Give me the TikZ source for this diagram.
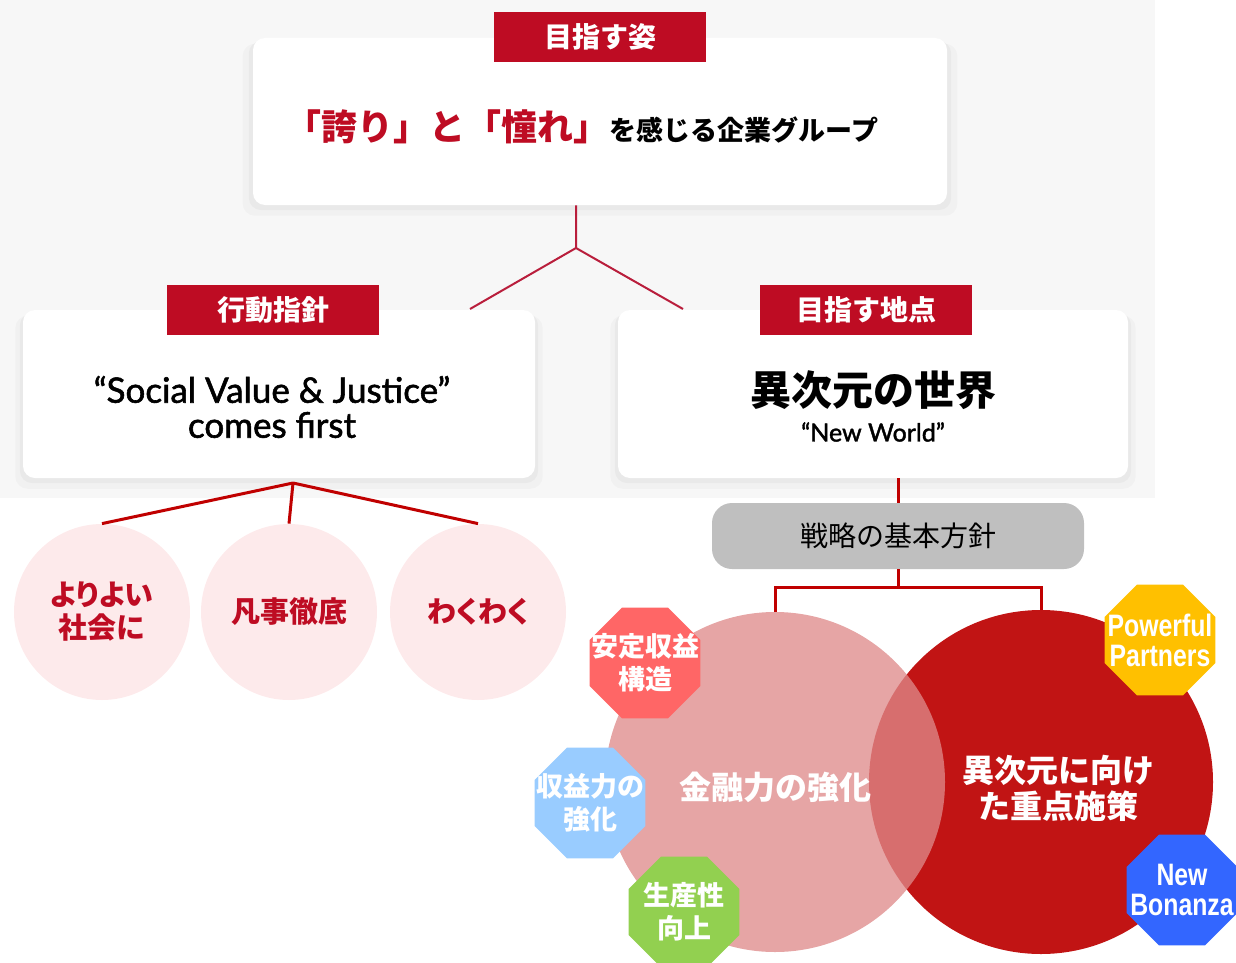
\documentclass[tikz,border=0pt]{standalone}
\usepackage{fontspec}
\setmainfont{Lato}[RawFeature={embolden=1.6}]
\newfontfamily\jp{Noto Sans CJK JP}
\newfontfamily\jpp[RawFeature=+palt]{Noto Sans CJK JP}
\newfontfamily\arl[FakeStretch=0.8]{Liberation Sans}
\usetikzlibrary{shapes.geometric,shadows}
\definecolor{tabred}{RGB}{190,12,35}
\definecolor{linered}{RGB}{192,0,0}
\definecolor{forkred}{RGB}{185,30,60}
\definecolor{dotpink}{RGB}{253,234,235}
\definecolor{finpink}{RGB}{222,138,138}
\definecolor{focusred}{RGB}{193,20,20}
\definecolor{stablered}{RGB}{255,102,102}
\definecolor{profitblue}{RGB}{153,204,255}
\definecolor{prodgreen}{RGB}{146,208,80}
\definecolor{partyellow}{RGB}{255,192,0}
\definecolor{bonblue}{RGB}{51,102,255}

\begin{document}
\begin{tikzpicture}[x=0.5pt,y=-0.5pt,
    card/.style={fill=white,rounded corners=6pt,inner sep=0pt,
      general shadow={fill=black,opacity=0.025,shadow xshift=0pt,shadow yshift=-4pt,shadow scale=1.03},
      general shadow={fill=black,opacity=0.03,shadow xshift=0pt,shadow yshift=-2pt,shadow scale=1.012}},
    tab/.style={fill=tabred,text=white,inner sep=0pt,minimum width=106pt,minimum height=25pt,
      font=\jp\bfseries\fontsize{14}{16}\selectfont},
    dot/.style={circle,fill=dotpink,minimum size=88pt,inner sep=0pt,align=center,
      text=tabred,font=\jpp\bfseries\fontsize{14.5}{16.5}\selectfont},
    oct/.style={regular polygon,regular polygon sides=8,minimum size=60pt,inner sep=0pt},
    octtxt/.style={text=white,align=center,font=\jp\bfseries\fontsize{13.5}{16.5}\selectfont},
    octlat/.style={text=white,align=center,font=\arl\bfseries\fontsize{15.5}{15}\selectfont},
    fork/.style={forkred,line width=1pt},
    fan/.style={linered,line width=1.5pt}]
    \clip (0,0) rectangle (1236,963);
    \fill[black!3] (0,0) rectangle (1155,498);

    % top card
    \node[card,minimum width=347pt,minimum height=83.5pt] (goal) at (600,121.5) {};
    \node[tab] (goaltab) at (600,37) {目指す姿};
    \node (goaltxt) at (582,127) {{\jp\bfseries\fontsize{18}{20}\selectfont\color{tabred}「誇り」と「憧れ」}{\jp\bfseries\fontsize{13.5}{16}\selectfont を感じる企業グループ}};

    % fork
    \coordinate (split) at (576,248);
    \coordinate (splitl) at (470,309);
    \coordinate (splitr) at (683,309);
    \draw[fork] (goal.south -| split) -- (split) -- (splitl);
    \draw[fork] (split) -- (splitr);

    % left and right cards
    \node[card,minimum width=256pt,minimum height=84pt] (guide) at (279,394) {};
    \node[tab] (guidetab) at (273,310) {行動指針};
    \node[align=center,font=\fontsize{17.5}{17.5}\selectfont] (guidetxt) at (272,407) {“Social Value \& Justice”\\comes first};

    \node[card,minimum width=255pt,minimum height=84pt] (world) at (873,394) {};
    \node[tab] (worldtab) at (866,310) {目指す地点};
    \node[font=\jp\bfseries\fontsize{20.5}{22}\selectfont] (worldtxt) at (873,390) {異次元の世界};
    \node[font=\fontsize{12.5}{14}\selectfont] (worldsub) at (873,432) {“New World”};

    % three values
    \node[dot] (better) at (102,612) {よりよい\\社会に};
    \node[dot] (basics) at (289,612) {凡事徹底};
    \node[dot] (excite) at (478,612) {わくわく};
    \coordinate (fan) at (293,483);
    \draw[fan] (fan) -- (better.north);
    \draw[fan] (fan) -- (basics.north);
    \draw[fan] (fan) -- (excite.north);

    % strategy
    \node[fill=black!25,rounded corners=10pt,minimum width=186pt,minimum height=33pt,
      font=\jp\fontsize{14}{16}\selectfont] (strat) at (898,536) {戦略の基本方針};
    \draw[fan] (strat.north |- world.south) -- (strat.north);

    \node[circle,fill=focusred,minimum size=172pt,inner sep=0pt] (focus) at (1041,782) {};
    \node[circle,fill=finpink,fill opacity=0.77,minimum size=170pt,inner sep=0pt] (fin) at (775,782) {};
    \node[text=white,font=\jp\bfseries\fontsize{16}{18}\selectfont] (fintxt) at (775,787) {金融力の強化};
    \node[text=white,align=center,font=\jp\bfseries\fontsize{16}{18}\selectfont] (focustxt) at (1058,788) {異次元に向け\\た重点施策};

    \coordinate (bus) at (898,587);
    \draw[fan] (strat.south) -- (bus) -| (fin.north);
    \draw[fan] (bus) -| (focus.north);

    % octagons
    \node[oct,fill=stablered,label={[octtxt]center:安定収益\\構造}] (stable) at (645,663) {};
    \node[oct,fill=profitblue,label={[octtxt]center:収益力の\\強化}] (profit) at (590,803) {};
    \node[oct,fill=prodgreen,label={[octtxt]center:生産性\\向上}] (prod) at (684,912) {};
    \node[oct,fill=partyellow,label={[octlat]center:Powerful\\Partners}] (partners) at (1160,640) {};
    \node[oct,fill=bonblue,label={[octlat]center:New\\Bonanza}] (bonanza) at (1182,890) {};
\end{tikzpicture}
\end{document}
